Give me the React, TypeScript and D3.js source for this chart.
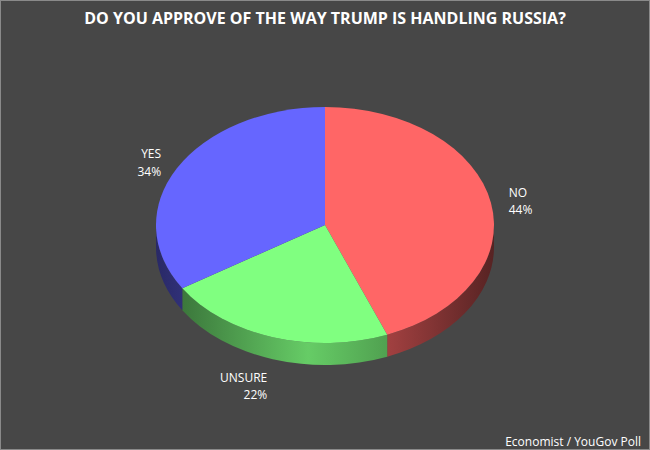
import React from 'react';
import * as d3 from 'd3';

const categories = ['NO', 'UNSURE', 'YES'];
const values = [44, 22, 34];
const colors = ['#FF6666', '#80FF80', '#6666FF'];
const title = 'DO YOU APPROVE OF THE WAY TRUMP IS HANDLING RUSSIA?';
const source = 'Economist / YouGov Poll';

// shading along the rim, left -> right
const rimShade = [
  [0, 0.4],
  [0.45, 0.8],
  [0.7, 0.62],
  [1, 0.34]
];

export default function App(): JSX.Element {
  const width = 650;
  const height = 450;
  const cx = 325;
  const cy = 225;
  const rx = 169;
  const ry = 118;
  const depth = 22;

  const pie = d3
    .pie<number>()
    .sort(null)
    .value((d) => d);
  const arcs = pie(values);

  const pt = (a: number, dy = 0) => [cx + rx * Math.sin(a), cy - ry * Math.cos(a) + dy];

  // top face: circular arc squashed into an ellipse
  const arcGen = d3.arc<d3.PieArcDatum<number>>().innerRadius(0).outerRadius(rx);

  const sidePath = (a0: number, a1: number) => {
    const s = Math.max(a0, Math.PI / 2);
    const e = Math.min(a1, (3 * Math.PI) / 2);
    if (e <= s) return null;
    const [x0, y0] = pt(s);
    const [x1, y1] = pt(e);
    const large = e - s > Math.PI ? 1 : 0;
    return (
      `M${x0},${y0}A${rx},${ry} 0 ${large} 1 ${x1},${y1}` +
      `L${x1},${y1 + depth}A${rx},${ry} 0 ${large} 0 ${x0},${y0 + depth}Z`
    );
  };

  const shade = (c: string, f: number) => {
    const r = d3.rgb(c);
    return d3.rgb(r.r * f, r.g * f, r.b * f).formatHex();
  };

  const font = "'Open Sans', 'Noto Sans', sans-serif";

  return (
    <svg
      width={width}
      height={height}
      style={{ position: 'absolute', left: 0, top: 0, display: 'block' }}
    >
      <defs>
        {colors.map((c, i) => (
          <linearGradient
            key={i}
            id={`rim${i}`}
            gradientUnits="userSpaceOnUse"
            x1={cx - rx}
            x2={cx + rx}
            y1={0}
            y2={0}
          >
            {rimShade.map(([o, f]) => (
              <stop key={o} offset={o} stopColor={shade(c, f)} />
            ))}
          </linearGradient>
        ))}
      </defs>
      <rect x={0.5} y={0.5} width={width - 1} height={height - 1} fill="#474747" stroke="#8a8a8a" />
      <text
        x={width / 2}
        y={24}
        textAnchor="middle"
        fill="#ffffff"
        fontFamily={font}
        fontWeight="bold"
        fontSize={16}
      >
        {title}
      </text>

      {arcs.map((d, i) => {
        const p = sidePath(d.startAngle, d.endAngle);
        return p ? <path key={'s' + i} d={p} fill={`url(#rim${i})`} /> : null;
      })}

      <g transform={`translate(${cx},${cy}) scale(1,${ry / rx})`}>
        {arcs.map((d, i) => (
          <path key={'t' + i} d={arcGen(d) as string} fill={colors[i]} />
        ))}
      </g>

      {arcs.map((d, i) => {
        const a = (d.startAngle + d.endAngle) / 2;
        const s = Math.sin(a);
        const c = Math.cos(a);
        const lx = cx + (rx + 18) * s;
        const ly = cy - (ry + 12) * c + (c < 0 ? depth + 15 : 0);
        return (
          <text
            key={'l' + i}
            x={lx}
            y={ly}
            fill="#ffffff"
            fontFamily={font}
            fontSize={12}
            textAnchor={s > 0 ? 'start' : 'end'}
          >
            <tspan x={lx} dy={-4}>
              {categories[i]}
            </tspan>
            <tspan x={lx} dy={17.5}>
              {values[i]}%
            </tspan>
          </text>
        );
      })}

      <text
        x={641}
        y={446}
        textAnchor="end"
        fill="#ffffff"
        fontFamily={font}
        fontSize={12}
      >
        {source}
      </text>
    </svg>
  );
}
